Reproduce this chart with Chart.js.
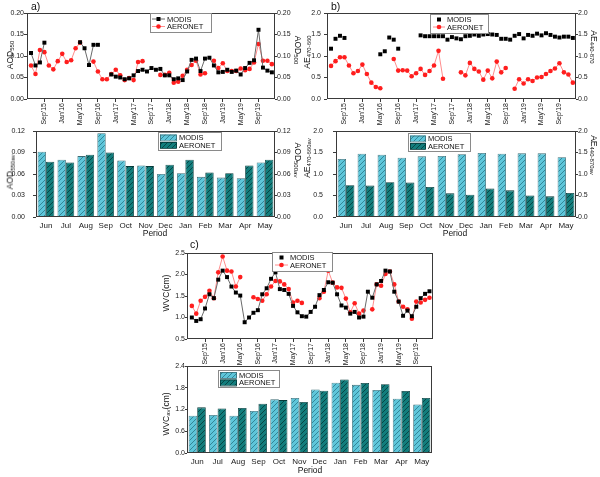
<!DOCTYPE html>
<html><head><meta charset="utf-8">
<script src="https://cdn.jsdelivr.net/npm/chart.js@4.4.1/dist/chart.umd.min.js"></script>
<style>
html,body{margin:0;padding:0;background:#fff;}
#wrap{position:relative;width:600px;height:477px;overflow:hidden;background:#fff;font-family:"Liberation Sans",Arial,sans-serif;color:#111;}
#wrap canvas{position:absolute;left:0;top:0;}
.t{position:absolute;white-space:nowrap;font-size:8.5px;line-height:1;z-index:5;}
.c{transform:translate(-50%,-50%);}
.l{transform:translate(-50%,-50%) rotate(-90deg);}
.r{transform:translate(-50%,-50%) rotate(90deg);}
.t sub{font-size:6px;vertical-align:-1.5px;line-height:0;}
.p{font-size:10.5px;}
</style></head><body>
<div id="wrap">
<canvas id="cA1" width="600" height="477"></canvas>
<canvas id="cA2" width="600" height="477"></canvas>
<canvas id="cB1" width="600" height="477"></canvas>
<canvas id="cB2" width="600" height="477"></canvas>
<canvas id="cC1" width="600" height="477"></canvas>
<canvas id="cC2" width="600" height="477"></canvas>

<div class="t p" style="left:31px;top:1px">a)</div>
<div class="t p" style="left:331px;top:1px">b)</div>
<div class="t p" style="left:190px;top:239px">c)</div>

<div class="t l" style="left:10px;top:55px">AOD<sub>550</sub></div>
<div class="t r" style="left:298px;top:50px">AOD<sub>500</sub></div>
<div class="t l" style="left:10px;top:172px">AOD<sub>550av</sub></div>
<div class="t r" style="left:298px;top:160px">AOD<sub>500av</sub></div>
<div class="t c" style="left:155px;top:233px">Period</div>

<div class="t l" style="left:307px;top:52px">AE<sub>470-660</sub></div>
<div class="t r" style="left:594px;top:47px">AE<sub>440-870</sub></div>
<div class="t l" style="left:307px;top:158px">AE<sub>470-660av</sub></div>
<div class="t r" style="left:594px;top:155px">AE<sub>440-870av</sub></div>
<div class="t c" style="left:455px;top:233px">Period</div>

<div class="t l" style="left:166px;top:293px">WVC(cm)</div>
<div class="t l" style="left:166px;top:414px">WVC<sub>av</sub>(cm)</div>
<div class="t c" style="left:310px;top:470px">Period</div>
</div>
<script>
const FF = '"Liberation Sans", Arial, sans-serif';

// ---------- monthly time series (Jun'15 .. Dec'19) ----------
const months = ["Jun'15","Jul'15","Aug'15","Sep'15","Oct'15","Nov'15","Dec'15",
 "Jan'16","Feb'16","Mar'16","Apr'16","May'16","Jun'16","Jul'16","Aug'16","Sep'16","Oct'16","Nov'16","Dec'16",
 "Jan'17","Feb'17","Mar'17","Apr'17","May'17","Jun'17","Jul'17","Aug'17","Sep'17","Oct'17","Nov'17","Dec'17",
 "Jan'18","Feb'18","Mar'18","Apr'18","May'18","Jun'18","Jul'18","Aug'18","Sep'18","Oct'18","Nov'18","Dec'18",
 "Jan'19","Feb'19","Mar'19","Apr'19","May'19","Jun'19","Jul'19","Aug'19","Sep'19","Oct'19","Nov'19","Dec'19"];
const tsTickLabels = ["Sep'15","Jan'16","May'16","Sep'16","Jan'17","May'17","Sep'17","Jan'18","May'18","Sep'18","Jan'19","May'19","Sep'19"];

const aodModis = [0.107,0.078,0.085,0.131,null,null,null,null,null,null,null,
 0.132,0.118,0.079,0.126,0.126,null,null,
 0.057,0.052,0.050,0.046,0.048,0.055,0.065,0.068,0.064,0.072,
 0.068,0.070,0.055,0.055,0.046,0.048,0.044,0.064,0.091,0.094,
 0.065,0.094,0.096,0.078,0.062,0.063,0.068,0.063,0.066,0.057,
 0.072,0.084,0.090,0.161,0.073,0.066,0.062];
const aodAeronet = [0.078,0.058,0.114,0.109,0.078,0.069,0.088,0.105,0.086,0.090,0.118,0.131,
 null,null,
 0.087,0.064,0.046,0.046,0.058,0.068,0.055,0.044,0.049,0.044,0.086,0.088,
 null,null,null,
 0.056,0.056,0.061,0.038,0.040,0.054,0.068,0.079,0.089,0.057,0.060,
 null,
 0.089,0.072,0.083,0.065,0.065,0.065,0.071,0.067,0.070,0.085,0.128,0.089,0.089,0.081];

const aeModis = [1.17,1.40,1.47,1.42,null,null,null,null,null,null,null,
 1.04,1.11,1.43,1.38,1.17,null,null,null,null,
 1.48,1.46,1.46,1.46,1.46,1.46,1.38,1.44,1.41,1.39,
 1.46,1.47,1.50,1.47,1.50,1.51,1.50,1.49,1.40,1.40,
 1.38,1.47,1.51,1.41,1.49,1.47,1.52,1.48,1.53,1.49,
 1.45,1.43,1.45,1.45,1.42];
const aeAeronet = [0.77,0.88,0.97,0.97,0.78,0.60,0.65,0.80,0.58,0.38,0.28,0.25,
 null,null,
 0.93,0.66,0.67,0.66,0.53,0.60,0.70,0.56,0.65,0.78,1.12,0.47,
 null,null,null,
 0.62,0.55,0.84,0.70,0.64,0.45,0.66,0.48,0.87,0.62,0.72,
 null,
 0.24,0.46,0.36,0.46,0.42,0.50,0.51,0.58,0.65,0.71,0.83,0.62,0.57,0.38];

const wvcModis = [1.00,0.92,0.96,1.21,1.54,1.45,1.88,2.09,1.94,1.72,
 1.58,1.51,0.89,1.00,1.11,1.17,1.54,1.68,1.90,2.05,
 1.66,1.64,1.55,1.27,1.12,1.03,1.02,1.13,1.25,1.52,
 1.64,1.82,1.81,1.54,1.28,1.23,1.09,1.13,1.00,1.02,
 1.60,1.46,1.77,1.85,2.09,2.07,1.60,1.37,1.04,1.16,
 1.03,1.25,1.45,1.55,1.61];
const wvcAeronet = [1.27,1.09,1.39,1.48,1.62,1.45,2.05,2.42,2.09,2.07,1.72,1.94,
 null,null,
 1.47,1.43,1.39,1.54,1.72,1.85,1.84,1.77,1.66,1.35,1.39,1.34,
 null,null,null,
 1.45,1.60,2.09,1.81,1.70,1.69,1.44,1.12,1.33,1.09,1.16,
 null,
 1.19,1.77,1.74,2.01,2.07,1.77,1.37,1.25,1.19,0.97,1.37,1.35,1.41,1.46];

// ---------- monthly averages ----------
const periods = ["Jun","Jul","Aug","Sep","Oct","Nov","Dec","Jan","Feb","Mar","Apr","May"];
const aodModisAv   = [0.091,0.080,0.085,0.117,0.079,0.072,0.060,0.061,0.056,0.055,0.054,0.076];
const aodAeronetAv = [0.077,0.076,0.087,0.090,0.071,0.071,0.073,0.080,0.062,0.061,0.072,0.080];
const aeModisAv    = [1.35,1.47,1.45,1.38,1.41,1.42,1.46,1.49,1.47,1.48,1.48,1.39];
const aeAeronetAv  = [0.74,0.73,0.81,0.80,0.70,0.55,0.52,0.66,0.62,0.50,0.48,0.56];
const wvcModisAv   = [1.03,1.05,1.03,1.16,1.48,1.52,1.75,1.94,1.88,1.74,1.50,1.34];
const wvcAeronetAv = [1.26,1.23,1.24,1.36,1.46,1.41,1.72,2.03,1.93,1.90,1.71,1.52];

// ---------- helpers ----------
function pts(arr){ return arr.map((v,i)=>({x:i,y:v})); }

function hatch(canvasId,bg,line){
  const c=document.createElement('canvas'); c.width=5; c.height=5;
  const g=c.getContext('2d');
  g.fillStyle=bg; g.fillRect(0,0,5,5);
  g.strokeStyle=line; g.lineWidth=0.9;
  g.beginPath();
  g.moveTo(0,5); g.lineTo(5,0);
  g.moveTo(-1,1); g.lineTo(1,-1);
  g.moveTo(4,6); g.lineTo(6,4);
  g.stroke();
  return document.getElementById(canvasId).getContext('2d').createPattern(c,'repeat');
}

function drawLegend(ctx,L,chart){
  ctx.save();
  ctx.fillStyle='#fff'; ctx.fillRect(L.x,L.y,L.w,L.h);
  ctx.strokeStyle='#8a8a8a'; ctx.lineWidth=1;
  ctx.strokeRect(L.x+0.5,L.y+0.5,L.w,L.h);
  ctx.font='7.5px '+FF; ctx.textBaseline='middle'; ctx.textAlign='left';
  L.rows.forEach((r,i)=>{
    const ds=chart.data.datasets[r.ds];
    const y=L.y+L.rowY[i];
    if(L.kind==='bar'){
      ctx.fillStyle=ds.backgroundColor;
      ctx.fillRect(L.s0,y-3,L.s1-L.s0,6);
      ctx.strokeStyle=ds.borderColor; ctx.lineWidth=0.8;
      ctx.strokeRect(L.s0+0.5,y-3+0.5,L.s1-L.s0-1,6);
    } else {
      const mx=(L.s0+L.s1)/2;
      if(r.line){
        ctx.strokeStyle=ds.borderColor; ctx.lineWidth=1;
        ctx.beginPath(); ctx.moveTo(L.s0,y); ctx.lineTo(L.s1,y); ctx.stroke();
      }
      ctx.fillStyle=ds.pointBackgroundColor;
      if(ds.pointStyle==='rect'){ ctx.fillRect(mx-2,y-2,4,4); }
      else { ctx.beginPath(); ctx.arc(mx,y,2.3,0,Math.PI*2); ctx.fill(); }
    }
    ctx.fillStyle='#111';
    ctx.fillText(ds.label,L.tx,y+0.5);
  });
  ctx.restore();
}

const deco={id:'deco',afterDraw(chart,args,o){
  const ctx=chart.ctx,a=chart.chartArea;
  ctx.save();
  ctx.strokeStyle='#3a3a3a'; ctx.lineWidth=1;
  const L=Math.round(a.left)+0.5,R=Math.round(a.right)-0.5,T=Math.round(a.top)+0.5,B=Math.round(a.bottom)-0.5;
  ctx.strokeRect(L,T,R-L,B-T);
  ctx.restore();
  if(o && o.legend) drawLegend(ctx,o.legend,chart);
}};

function yScale(min,max,step,dec,pos,width,tl,pad){
  return {type:'linear',position:pos,min:min,max:max,
    ticks:{stepSize:step,callback:v=>Number(v).toFixed(dec),font:{size:7,family:FF},color:'#1a1a1a',padding:pad},
    grid:{drawOnChartArea:false,drawTicks:true,tickLength:tl,color:'#3a3a3a'},
    border:{display:false},
    afterFit:s=>{s.width=width;}};
}

function tsX(min,max,bottom){
  return {type:'linear',position:'bottom',min:min,max:max,
    afterBuildTicks:s=>{ s.ticks=tsTickLabels.map(l=>({value:months.indexOf(l)})); },
    ticks:{autoSkip:false,minRotation:90,maxRotation:90,font:{size:7,family:FF},color:'#1a1a1a',padding:1,
      callback:v=>months[v]},
    grid:{drawOnChartArea:false,drawTicks:true,tickLength:3,color:'#3a3a3a'},
    border:{display:false},
    afterFit:s=>{s.height=477-bottom;}};
}

function barX(bottom){
  return {type:'category',position:'bottom',
    ticks:{font:{size:8,family:FF},color:'#1a1a1a',padding:4,maxRotation:0,autoSkip:false},
    grid:{display:false,drawTicks:false,tickLength:0},
    border:{display:false},
    afterFit:s=>{s.height=477-bottom;}};
}

function tsChart(id,box,xr,yCfg,modis,aeronet,modisLine,legend){
  const scales={x:tsX(xr[0],xr[1],box.bottom),
    y:yScale(yCfg.min,yCfg.max,yCfg.step,yCfg.dec,'left',box.left,yCfg.tl,yCfg.pad)};
  if(box.rightAxis) scales.y2=yScale(yCfg.min,yCfg.max,yCfg.step,yCfg.dec,'right',600-box.right,2,0);
  return new Chart(document.getElementById(id),{
    type:'line',
    data:{datasets:[
      {label:'MODIS',data:pts(modis),showLine:modisLine,borderColor:'#6a6a6a',borderWidth:1,
       pointStyle:'rect',pointRadius:2.8,pointBackgroundColor:'#000',pointBorderColor:'#000',pointBorderWidth:0,
       spanGaps:false,tension:0,yAxisID:'y'},
      {label:'AERONET',data:pts(aeronet),showLine:true,borderColor:'#ff8c8c',borderWidth:1,
       pointStyle:'circle',pointRadius:2.3,pointBackgroundColor:'#ff1e1e',pointBorderColor:'#ff1e1e',pointBorderWidth:0,
       spanGaps:false,tension:0,yAxisID:'y'}
    ]},
    options:{responsive:false,animation:false,devicePixelRatio:1,
      layout:{padding:{top:box.top,left:0,bottom:0,right:box.rightAxis?0:600-box.right}},
      plugins:{legend:{display:false},tooltip:{enabled:false},deco:{legend:legend}},
      scales:scales},
    plugins:[deco]
  });
}

function barChart(id,box,yCfg,modis,aeronet,legend){
  const pM=hatch(id,'#5ec6da','#2f7f91');
  const pA=hatch(id,'#127d7c','#073f3f');
  const scales={x:barX(box.bottom),
    y:yScale(yCfg.min,yCfg.max,yCfg.step,yCfg.dec,'left',box.left,yCfg.tl,yCfg.pad)};
  if(box.rightAxis) scales.y2=yScale(yCfg.min,yCfg.max,yCfg.step,yCfg.dec,'right',600-box.right,2,0);
  return new Chart(document.getElementById(id),{
    type:'bar',
    data:{labels:periods,datasets:[
      {label:'MODIS',data:modis,backgroundColor:pM,borderColor:'#3b6b74',borderWidth:0.8,
       barPercentage:1.0,categoryPercentage:0.84,yAxisID:'y'},
      {label:'AERONET',data:aeronet,backgroundColor:pA,borderColor:'#063a3a',borderWidth:0.8,
       barPercentage:1.0,categoryPercentage:0.84,yAxisID:'y'}
    ]},
    options:{responsive:false,animation:false,devicePixelRatio:1,
      layout:{padding:{top:box.top,left:0,bottom:0,right:box.rightAxis?0:600-box.right}},
      plugins:{legend:{display:false},tooltip:{enabled:false},deco:{legend:legend}},
      scales:scales},
    plugins:[deco]
  });
}

// ---------- panel a ----------
tsChart('cA1',{left:27,right:275,top:13,bottom:99,rightAxis:true},[-0.9,54.7],
  {min:0,max:0.2,step:0.05,dec:2,tl:3,pad:0},aodModis,aodAeronet,true,
  {x:150,y:13,w:61,h:19,rowY:[6,13.5],s0:152,s1:165,tx:167,rows:[{ds:0,line:true},{ds:1,line:true}]});
barChart('cA2',{left:36,right:275,top:131,bottom:217,rightAxis:true},
  {min:0,max:0.12,step:0.03,dec:2,tl:3,pad:8},aodModisAv,aodAeronetAv,
  {kind:'bar',x:158,y:132,w:63,h:18,rowY:[5.5,13],s0:160,s1:177,tx:179,rows:[{ds:0},{ds:1}]});

// ---------- panel b ----------
tsChart('cB1',{left:327,right:576,top:13,bottom:99,rightAxis:true},[-0.9,54.7],
  {min:0,max:2.0,step:0.5,dec:1,tl:3,pad:3},aeModis,aeAeronet,false,
  {x:430,y:14,w:58,h:19,rowY:[5.5,13],s0:433,s1:445,tx:447,rows:[{ds:0,line:false},{ds:1,line:true}]});
barChart('cB2',{left:336,right:576,top:131,bottom:217,rightAxis:true},
  {min:0,max:2.0,step:0.5,dec:1,tl:3,pad:10},aeModisAv,aeAeronetAv,
  {kind:'bar',x:408,y:133,w:62,h:18,rowY:[5.5,13],s0:410,s1:426,tx:428,rows:[{ds:0},{ds:1}]});

// ---------- panel c ----------
tsChart('cC1',{left:187,right:433,top:253,bottom:339,rightAxis:false},[-1.1,54.8],
  {min:0.5,max:2.5,step:0.5,dec:1,tl:2,pad:0},wvcModis,wvcAeronet,true,
  {x:272,y:252,w:60,h:19,rowY:[5.5,13],s0:275,s1:288,tx:290,rows:[{ds:0,line:false},{ds:1,line:true}]});
barChart('cC2',{left:187,right:432,top:366,bottom:453,rightAxis:false},
  {min:0,max:2.4,step:0.6,dec:1,tl:2,pad:0},wvcModisAv,wvcAeronetAv,
  {kind:'bar',x:218,y:370,w:61,h:17,rowY:[5,12.5],s0:220,s1:237,tx:239,rows:[{ds:0},{ds:1}]});
</script>
</body></html>
